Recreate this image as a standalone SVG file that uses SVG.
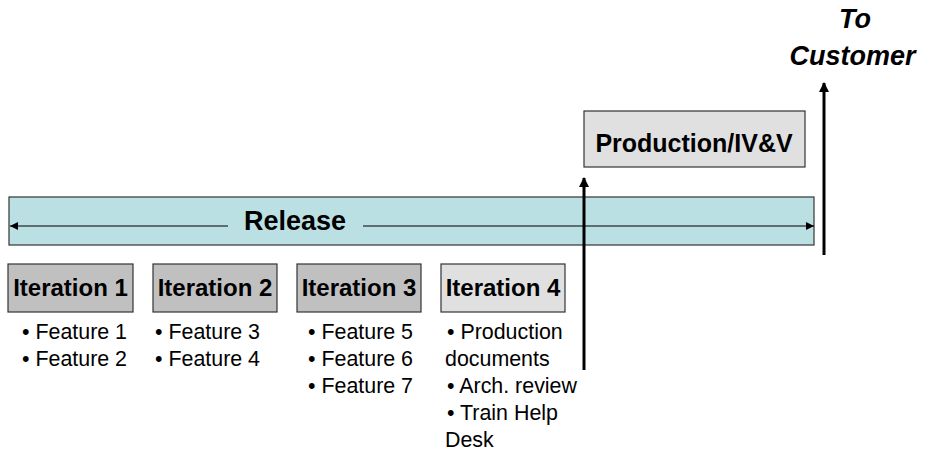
<svg xmlns="http://www.w3.org/2000/svg" width="927" height="451" viewBox="0 0 927 451">
  <defs>
    <marker id="headSmall" viewBox="0 0 10 10" refX="10" refY="5" markerWidth="8" markerHeight="8" markerUnits="userSpaceOnUse" orient="auto-start-reverse">
      <path d="M0,0 L10,5 L0,10 Z" fill="#000"/>
    </marker>
    <marker id="headBold" viewBox="0 0 10 10" refX="9" refY="5" markerWidth="10" markerHeight="12" markerUnits="userSpaceOnUse" orient="auto">
      <path d="M0,0 L10,5 L0,10 Z" fill="#000"/>
    </marker>
  </defs>
  <style>
    .box { stroke: #333; stroke-width: 1.2; }
    .dark { fill: #C0C0C0; }
    .light { fill: #E0E0E0; }
    .title { font-family: "Liberation Sans", Arial, sans-serif; font-weight: bold; font-size: 24px; fill: #000; text-anchor: middle; }
    .big { font-size: 27px; }
    .mid { font-size: 25px; }
    .ital { font-style: italic; }
    .item { font-family: "Liberation Sans", Arial, sans-serif; font-size: 21.4px; fill: #000; }
    .flow { stroke: #000; stroke-width: 3; fill: none; }
  </style>
  <rect width="927" height="451" fill="#fff"/>

  <g id="release">
    <rect class="box" x="9" y="197" width="805" height="48" fill="#BBE0E3"/>
    <text class="title big" x="295" y="230">Release</text>
  </g>

  <g id="iteration1">
    <rect class="box dark" x="8" y="264" width="125" height="48"/>
    <text class="title" x="70.5" y="296">Iteration 1</text>
    <text class="item" x="22" y="339">• Feature 1</text>
    <text class="item" x="22" y="366">• Feature 2</text>
  </g>

  <g id="iteration2">
    <rect class="box dark" x="153" y="264" width="124" height="48"/>
    <text class="title" x="215" y="296">Iteration 2</text>
    <text class="item" x="155" y="339">• Feature 3</text>
    <text class="item" x="155" y="366">• Feature 4</text>
  </g>

  <g id="iteration3">
    <rect class="box dark" x="297" y="264" width="124" height="48"/>
    <text class="title" x="359" y="296">Iteration 3</text>
    <text class="item" x="308" y="339">• Feature 5</text>
    <text class="item" x="308" y="366">• Feature 6</text>
    <text class="item" x="308" y="393">• Feature 7</text>
  </g>

  <g id="iteration4">
    <rect class="box light" x="441" y="264" width="124" height="48"/>
    <text class="title" x="503" y="296">Iteration 4</text>
    <text class="item" x="447" y="339">• Production</text>
    <text class="item" x="445" y="366">documents</text>
    <text class="item" x="447" y="393">• Arch. review</text>
    <text class="item" x="447" y="420">• Train Help</text>
    <text class="item" x="445" y="447">Desk</text>
  </g>

  <g id="production">
    <rect class="box light" x="584" y="111" width="221" height="56"/>
    <text class="title mid" x="694" y="152">Production/IV&amp;V</text>
  </g>

  <g id="customer">
    <text class="title big ital" x="855" y="28">To</text>
    <text class="title big ital" x="852.5" y="65">Customer</text>
  </g>

  <g id="connectors">
    <!-- release span arrow, split around the label -->
    <line x1="228" y1="226" x2="10" y2="226" stroke="#000" stroke-width="1.2" marker-end="url(#headSmall)"/>
    <line x1="363" y1="226" x2="814" y2="226" stroke="#000" stroke-width="1.2" marker-end="url(#headSmall)"/>
    <!-- hand-off into production -->
    <line class="flow" x1="584" y1="370" x2="584" y2="178" marker-end="url(#headBold)"/>
    <!-- delivery to customer -->
    <line class="flow" x1="824" y1="255" x2="824" y2="83" marker-end="url(#headBold)"/>
  </g>
</svg>
